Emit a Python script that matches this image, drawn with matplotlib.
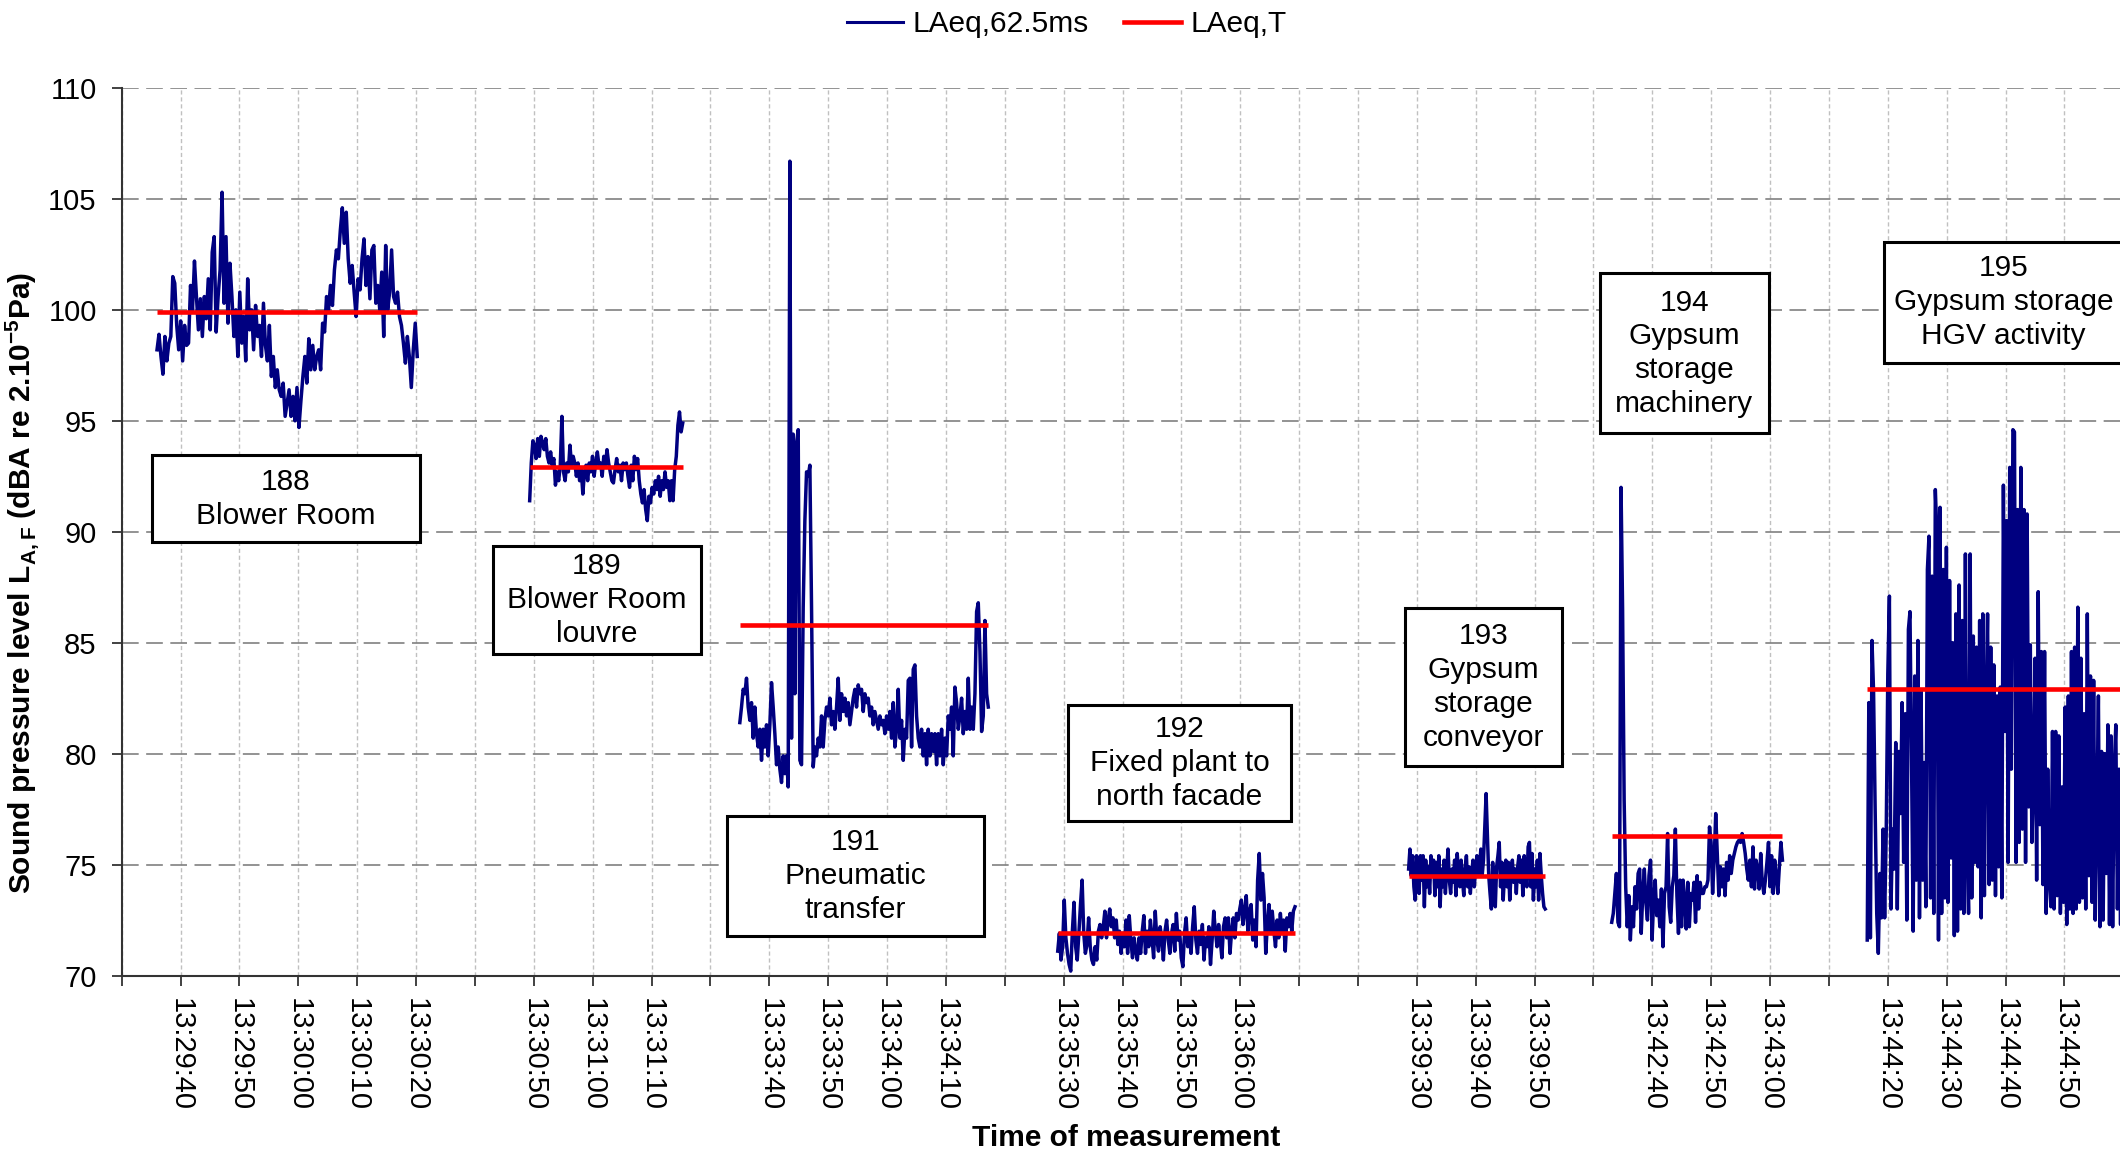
import matplotlib
matplotlib.use('Agg')
import matplotlib.pyplot as plt
from matplotlib.patches import Rectangle
from matplotlib.lines import Line2D
import numpy as np

plt.rcParams['font.family'] = ['Liberation Sans', 'DejaVu Sans']
plt.rcParams['mathtext.fontset'] = 'custom'
plt.rcParams['mathtext.rm'] = 'Liberation Sans'
plt.rcParams['mathtext.bf'] = 'Liberation Sans:bold'

# x axis is a slot axis: one slot = 10 s, gaps between measurements are empty slots
tick_labels = ['', '13:29:40', '13:29:50', '13:30:00', '13:30:10', '13:30:20',
               '', '13:30:50', '13:31:00', '13:31:10',
               '', '13:33:40', '13:33:50', '13:34:00', '13:34:10',
               '', '13:35:30', '13:35:40', '13:35:50', '13:36:00',
               '', '', '13:39:30', '13:39:40', '13:39:50',
               '', '13:42:40', '13:42:50', '13:43:00',
               '', '13:44:20', '13:44:30', '13:44:40', '13:44:50', '']

seg_ids = ['188', '189', '191', '192', '193', '194', '195']
seg_text = ['Blower Room', 'Blower Room\nlouvre', 'Pneumatic\ntransfer',
            'Fixed plant to\nnorth facade', 'Gypsum\nstorage\nconveyor',
            'Gypsum\nstorage\nmachinery', 'Gypsum storage\nHGV activity']
seg_start = [0.60, 6.93, 10.50, 15.90, 21.86, 25.31, 29.65]
seg_end = [5.02, 9.53, 14.72, 19.93, 24.18, 28.21, 33.98]
laeq_t = [99.9, 92.9, 85.8, 71.9, 74.5, 76.3, 82.9]

lv_188 = [98.2, 98.9, 97.9, 97.1, 98.8, 97.7, 98.5, 98.8, 101.5, 101.2, 99.3, 98.2, 99.5, 97.7, 99.3,
          98.4, 98.5, 101.1, 100.0, 102.2, 100.6, 99.1, 100.5, 98.8, 100.6, 99.6, 101.4, 99.1, 102.6,
          103.3, 99.0, 100.6, 101.8, 105.3, 100.3, 103.3, 99.4, 102.1, 100.6, 98.8, 100.0, 97.9, 100.8,
          98.5, 99.7, 97.7, 101.4, 99.1, 100.0, 98.2, 100.2, 98.8, 99.3, 97.9, 100.3, 98.4, 97.7, 99.3,
          97.0, 97.9, 96.5, 97.3, 96.4, 96.1, 96.7, 95.2, 95.8, 96.4, 95.2, 96.1, 95.0, 96.5, 94.7, 95.9,
          97.0, 97.9, 96.7, 98.7, 97.3, 98.4, 97.3, 97.9, 98.2, 97.3, 99.4, 99.0, 100.6, 100.0, 101.1,
          100.2, 101.8, 102.7, 102.3, 103.6, 104.6, 103.0, 104.4, 102.3, 101.2, 102.0, 100.8, 99.7,
          101.4, 100.9, 102.3, 103.2, 101.1, 102.4, 100.5, 102.7, 102.9, 100.3, 101.1, 100.0, 101.7,
          98.8, 102.9, 100.0, 100.8, 102.7, 100.6, 100.3, 100.8, 99.7, 99.3, 98.5, 97.6, 98.8, 97.9,
          96.5, 98.2, 99.4, 97.9]

lv_189 = [91.4, 93.1, 94.1, 93.9, 93.3, 94.2, 93.4, 94.3, 94.0, 93.7, 94.2, 93.4, 93.1, 93.6, 93.0,
          93.3, 92.1, 92.7, 92.3, 93.0, 95.2, 92.7, 92.3, 93.1, 92.7, 93.9, 93.0, 93.4, 93.1, 92.5,
          93.1, 92.3, 92.8, 91.7, 92.7, 93.0, 92.3, 93.1, 92.7, 93.4, 92.5, 93.1, 93.6, 93.0, 93.1,
          92.5, 93.4, 93.0, 93.7, 93.1, 92.7, 92.3, 92.2, 92.8, 93.3, 92.7, 93.0, 92.3, 93.1, 92.8,
          93.1, 92.5, 92.0, 93.0, 92.3, 93.4, 92.8, 93.3, 92.3, 91.7, 91.3, 91.9, 91.0, 90.5, 91.6,
          91.3, 92.0, 91.7, 92.3, 91.9, 92.5, 91.6, 92.3, 91.9, 92.7, 92.0, 92.3, 91.4, 92.3, 91.4,
          92.8, 93.4, 94.8, 95.4, 94.5, 94.9]

lv_191 = [81.4, 82.1, 82.9, 82.7, 83.4, 82.1, 81.5, 82.3, 80.7, 82.1, 80.9, 80.3, 81.1, 79.7, 81.1,
          80.3, 81.3, 79.9, 81.3, 83.2, 82.1, 80.9, 79.5, 80.3, 79.3, 78.7, 79.9, 79.1, 79.9, 78.5,
          106.7, 80.7, 94.4, 82.7, 94.0, 94.6, 79.7, 79.5, 86.6, 90.5, 92.7, 92.5, 93.0, 86.6, 79.4,
          80.3, 79.9, 80.7, 80.3, 81.7, 80.3, 81.5, 82.1, 81.7, 82.5, 81.3, 81.9, 81.1, 82.1, 83.4,
          81.5, 82.7, 81.9, 82.5, 81.7, 82.3, 81.3, 81.9, 82.5, 82.9, 82.1, 83.1, 82.7, 82.9, 81.9,
          82.7, 82.3, 82.5, 81.7, 82.1, 81.3, 81.9, 81.5, 81.1, 81.7, 81.3, 81.5, 80.9, 81.7, 81.1,
          81.9, 80.7, 82.3, 80.3, 81.1, 82.9, 80.7, 81.5, 79.7, 81.1, 80.7, 83.3, 83.4, 80.3, 83.8,
          84.0, 81.7, 80.7, 80.3, 81.1, 79.9, 80.9, 79.5, 81.1, 79.9, 80.9, 80.1, 80.9, 79.5, 80.9,
          79.9, 81.1, 79.5, 80.7, 79.9, 81.7, 81.1, 82.1, 79.9, 83.0, 82.3, 81.1, 81.7, 82.5, 80.9,
          81.9, 81.1, 83.4, 81.1, 82.1, 81.1, 82.7, 86.4, 86.8, 84.6, 81.0, 81.7, 86.0, 82.7, 82.1]

lv_192 = [71.1, 71.9, 70.7, 71.3, 73.4, 71.7, 71.0, 70.5, 70.2, 72.0, 73.3, 71.3, 70.7, 71.9, 73.2,
          74.3, 71.9, 71.0, 71.4, 72.6, 71.3, 70.7, 70.5, 71.3, 70.7, 72.0, 72.3, 71.7, 72.2, 72.9,
          71.7, 72.5, 73.0, 72.2, 72.6, 71.7, 72.5, 71.4, 72.0, 71.0, 71.9, 71.3, 72.5, 71.0, 72.7,
          71.6, 70.8, 71.7, 71.1, 70.7, 71.7, 71.0, 72.0, 72.7, 71.0, 72.0, 71.3, 72.5, 71.7, 70.8,
          72.9, 71.6, 71.1, 72.2, 71.7, 70.7, 72.0, 72.5, 71.6, 71.0, 71.9, 72.3, 71.1, 72.8, 71.6,
          72.0, 70.8, 70.4, 71.9, 72.6, 71.3, 71.9, 71.0, 72.2, 73.1, 71.6, 71.0, 72.0, 71.4, 72.3,
          70.7, 71.7, 71.3, 72.2, 70.5, 71.6, 72.9, 72.0, 71.3, 72.3, 71.6, 70.8, 72.2, 72.6, 71.7,
          72.6, 71.0, 72.0, 72.6, 71.7, 72.8, 72.5, 73.0, 73.4, 72.3, 72.9, 73.6, 72.0, 72.9, 73.2,
          71.6, 72.5, 71.3, 74.3, 75.5, 73.4, 74.6, 73.5, 71.0, 72.3, 73.2, 71.9, 72.9, 72.0, 71.3,
          72.5, 71.7, 72.8, 71.9, 72.5, 71.1, 72.6, 72.2, 72.8, 72.0, 72.9, 73.1]

lv_193 = [74.8, 75.7, 74.5, 75.4, 74.0, 73.4, 75.4, 74.6, 73.7, 75.4, 74.3, 75.4, 73.1, 75.2, 74.0,
          74.9, 73.7, 75.4, 74.5, 75.2, 73.6, 75.1, 74.0, 75.4, 73.1, 74.8, 74.0, 75.2, 73.7, 74.8,
          75.7, 74.3, 73.7, 74.8, 74.2, 75.2, 73.6, 75.5, 74.6, 74.0, 75.2, 74.3, 73.6, 74.8, 75.4,
          74.0, 74.9, 73.7, 74.6, 75.2, 74.0, 74.8, 75.4, 74.5, 74.9, 75.7, 74.5, 75.2, 76.7, 78.2,
          76.3, 74.5, 73.7, 73.0, 75.1, 74.0, 73.1, 74.9, 75.4, 76.0, 74.0, 75.1, 73.4, 74.5, 75.2,
          74.0, 75.1, 73.4, 74.6, 75.2, 74.2, 74.8, 73.7, 74.9, 75.4, 74.2, 75.2, 73.6, 75.4, 74.6,
          74.0, 75.8, 76.0, 74.0, 75.5, 73.4, 74.8, 74.0, 75.2, 73.4, 75.5, 74.5, 73.7, 73.1, 73.0]

lv_194 = [72.4, 72.8, 73.7, 74.6, 72.4, 72.2, 92.0, 86.5, 77.9, 74.0, 72.2, 73.6, 71.6, 73.1, 72.2,
          74.0, 73.0, 74.6, 74.8, 71.9, 73.7, 74.8, 73.3, 72.5, 74.5, 75.2, 71.6, 73.4, 74.3, 72.7,
          73.4, 72.2, 73.9, 71.3, 73.7, 74.0, 76.4, 73.1, 72.4, 74.0, 74.5, 76.6, 73.6, 71.9, 74.3,
          72.2, 74.3, 73.3, 72.1, 74.2, 72.2, 73.7, 73.4, 74.2, 72.4, 74.5, 73.0, 74.2, 73.7, 73.7,
          74.0, 74.0, 74.3, 76.7, 76.0, 73.7, 75.2, 77.3, 75.5, 73.6, 74.9, 74.0, 74.8, 73.6, 75.1,
          74.3, 75.4, 74.6, 75.2, 75.5, 75.8, 76.0, 76.1, 76.0, 76.4, 76.0, 75.5, 74.8, 74.3, 75.2,
          74.0, 75.8, 73.9, 75.2, 74.8, 73.9, 75.5, 74.2, 73.7, 74.3, 75.1, 76.0, 74.0, 75.4, 73.7,
          75.2, 74.5, 73.7, 74.9, 76.0, 75.2]

lv_195 = [71.6, 82.3, 71.7, 85.1, 82.8, 77.5, 72.8, 71.0, 74.6, 72.6, 76.6, 72.6, 76.5, 83.6, 87.1,
          73.0, 76.6, 74.8, 80.5, 73.0, 80.1, 77.3, 82.3, 75.1, 81.8, 72.5, 85.6, 86.4, 79.6, 72.0,
          83.5, 74.3, 85.1, 72.6, 82.8, 74.3, 79.6, 73.1, 88.3, 89.8, 73.5, 88.0, 72.8, 91.9, 89.9,
          71.6, 91.1, 72.8, 88.3, 73.5, 89.3, 73.3, 87.8, 75.3, 85.0, 71.8, 86.3, 72.0, 87.6, 73.0,
          86.0, 72.8, 89.0, 76.0, 72.8, 89.0, 73.5, 85.3, 75.1, 84.8, 74.9, 86.0, 72.6, 86.3, 73.6,
          81.8, 86.3, 74.1, 84.8, 74.3, 84.0, 73.6, 82.6, 74.9, 83.0, 73.5, 92.1, 81.0, 90.5, 75.1,
          92.9, 79.3, 94.6, 94.5, 75.1, 91.0, 76.0, 92.9, 76.6, 91.0, 75.1, 90.8, 77.6, 84.9, 76.0,
          78.6, 84.3, 74.3, 87.3, 76.8, 84.6, 74.1, 84.6, 72.8, 79.3, 74.3, 73.1, 81.0, 73.0, 81.0,
          73.6, 80.8, 72.8, 78.5, 73.3, 82.1, 72.3, 82.6, 73.0, 84.6, 72.8, 84.8, 73.0, 86.6, 73.3,
          84.3, 73.5, 81.8, 73.0, 86.3, 74.5, 83.5, 73.3, 83.3, 72.5, 77.0, 82.6, 72.2, 80.1, 72.5,
          80.0, 74.6, 81.3, 72.3, 80.8, 72.2, 79.3, 81.3, 73.0, 79.3, 72.3, 82.0]

levels = [lv_188, lv_189, lv_191, lv_192, lv_193, lv_194, lv_195]

# label boxes (x0, x1, y0, y1) in axis units
box_x = [(0.51, 5.06), (6.30, 9.84), (10.28, 14.64), (16.07, 19.87), (21.79, 24.47), (25.11, 27.98), (29.94, 33.99)]
box_y = [(89.53, 93.45), (84.5, 89.35), (71.8, 77.18), (76.95, 82.21), (79.44, 86.55), (94.43, 101.64), (97.62, 103.06)]

fs = 21.5
fig = plt.figure(figsize=(21.2, 11.5), dpi=100)
ax = fig.add_axes([0.0574, 0.1517, 0.9475, 0.7718])

for i, vals in enumerate(levels):
    x = np.linspace(seg_start[i], seg_end[i], len(vals))
    ax.plot(x, vals, color='#000080', lw=2.5, zorder=3)
    ax.plot([seg_start[i], seg_end[i]], [laeq_t[i], laeq_t[i]], color='#ff0000', lw=3.3,
            solid_capstyle='butt', zorder=4)

for i in range(len(seg_ids)):
    x0, x1 = box_x[i]
    y0, y1 = box_y[i]
    ax.add_patch(Rectangle((x0, y0), x1 - x0, y1 - y0, facecolor='white', edgecolor='black',
                           lw=2.2, zorder=5))
    ax.text((x0 + x1) / 2, (y0 + y1) / 2, seg_ids[i] + '\n' + seg_text[i], ha='center', va='center',
            fontsize=fs, linespacing=1.27, zorder=6)

ax.set_xlim(0, 34.12)
ax.set_ylim(70, 110)
ax.set_xticks(range(len(tick_labels)))
ax.set_xticklabels(tick_labels, rotation=-90, fontsize=21)
ax.set_yticks(range(70, 111, 5))
ax.tick_params(axis='y', labelsize=21, length=7, width=1.3, pad=11, color='#333333')
ax.tick_params(axis='x', length=7, width=1.3, pad=9, color='#333333')

ax.grid(axis='y', color='#808080', lw=1.2, dashes=(10, 4.5))
ax.grid(axis='x', color='#c0c0c0', lw=1.0, dashes=(3, 2))
ax.set_axisbelow(True)
for s in ['top', 'right']:
    ax.spines[s].set_visible(False)
for s in ['left', 'bottom']:
    ax.spines[s].set_color('#333333')
    ax.spines[s].set_linewidth(1.5)

ax.set_xlabel('Time of measurement', fontsize=fs, fontweight='bold')
ax.xaxis.set_label_coords(0.5, -0.167)
ax.set_ylabel(r'Sound pressure level L$_{\mathbf{A,F}}$ (dBA re 2.10$^{\mathbf{-5}}$Pa)',
              fontsize=fs, fontweight='bold')
ax.yaxis.set_label_coords(-0.04, 0.442)

handles = [Line2D([], [], color='#000080', lw=2.2), Line2D([], [], color='#ff0000', lw=3.3)]
fig.legend(handles, ['LAeq,62.5ms', 'LAeq,T'], loc='center', bbox_to_anchor=(0.503, 0.979),
           ncol=2, frameon=False, fontsize=fs, handlelength=1.9, handletextpad=0.3,
           columnspacing=1.2)

fig.savefig('out.png', dpi=100)
